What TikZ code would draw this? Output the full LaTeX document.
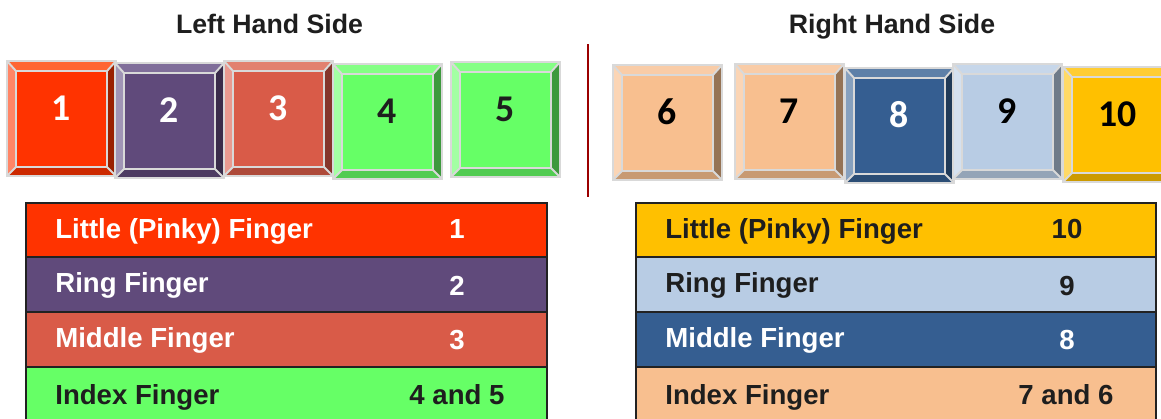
\documentclass[tikz,border=0pt]{standalone}
\usepackage{fontspec}
\setmainfont{Liberation Sans}
\newfontfamily\keyfont{Carlito}
\definecolor{Ink}{RGB}{30,30,30}
\definecolor{RuleInk}{RGB}{34,34,34}
\definecolor{KeyEdge}{RGB}{217,217,217}
\definecolor{Maroon}{RGB}{155,0,0}
% key palettes: face, left, top, right, bottom bevel
\definecolor{Scarlet}{HTML}{FF3300}\definecolor{ScarletLt}{HTML}{FF8566}\definecolor{ScarletTp}{HTML}{FF6633}\definecolor{ScarletRt}{HTML}{992000}\definecolor{ScarletBt}{HTML}{CC2900}
\definecolor{Plum}{HTML}{604A7B}\definecolor{PlumLt}{HTML}{A094B5}\definecolor{PlumTp}{HTML}{806E9A}\definecolor{PlumRt}{HTML}{3A2C4A}\definecolor{PlumBt}{HTML}{4D3B62}
\definecolor{Coral}{HTML}{D95B48}\definecolor{CoralLt}{HTML}{E99A90}\definecolor{CoralTp}{HTML}{E2806F}\definecolor{CoralRt}{HTML}{85352B}\definecolor{CoralBt}{HTML}{AE4A3A}
\definecolor{Lime}{HTML}{66FF66}\definecolor{LimeLt}{HTML}{A3FFA3}\definecolor{LimeTp}{HTML}{85FF85}\definecolor{LimeRt}{HTML}{3D993D}\definecolor{LimeBt}{HTML}{52CC52}
\definecolor{Peach}{HTML}{F8BF8F}\definecolor{PeachLt}{HTML}{FBD5B5}\definecolor{PeachTp}{HTML}{F9CCA7}\definecolor{PeachRt}{HTML}{957355}\definecolor{PeachBt}{HTML}{C89A72}
\definecolor{Navy}{HTML}{355E91}\definecolor{NavyLt}{HTML}{86A0BE}\definecolor{NavyTp}{HTML}{5E80A8}\definecolor{NavyRt}{HTML}{203A58}\definecolor{NavyBt}{HTML}{2B4D75}
\definecolor{Sky}{HTML}{B8CCE4}\definecolor{SkyLt}{HTML}{D5E1EF}\definecolor{SkyTp}{HTML}{C7D7EA}\definecolor{SkyRt}{HTML}{6F7B89}\definecolor{SkyBt}{HTML}{94A4B7}
\definecolor{Gold}{HTML}{FFC000}\definecolor{GoldLt}{HTML}{FFD966}\definecolor{GoldTp}{HTML}{FFCD33}\definecolor{GoldRt}{HTML}{997300}\definecolor{GoldBt}{HTML}{CC9A00}
\tikzset{
  sidetitle/.style={font=\fontsize{15.2pt}{18pt}\selectfont\bfseries,text=Ink,anchor=base,inner sep=0pt},
  keyedge/.style={draw=KeyEdge,line width=1.1pt,line join=miter},
  keydigit/.style={font=\keyfont\fontsize{21.5pt}{24pt}\selectfont\bfseries,anchor=base,inner sep=0pt},
  fingerrow/.style={draw=RuleInk,line width=1.4pt},
  fingername/.style={font=\fontsize{15.7pt}{18pt}\selectfont\bfseries,anchor=base west,inner sep=0pt},
  fingerkey/.style={font=\fontsize{15.7pt}{18pt}\selectfont\bfseries,anchor=base,inner sep=0pt},
  divider/.style={draw=Maroon,line width=1.6pt},
  pics/keycap/.style n args={3}{code={
    \fill[#1Lt] (0,0) -- (9,10) -- (9,106) -- (0,115) -- cycle;
    \fill[#1Tp] (0,0) -- (109,0) -- (100,10) -- (9,10) -- cycle;
    \fill[#1Rt] (109,0) -- (109,115) -- (100,106) -- (100,10) -- cycle;
    \fill[#1Bt] (0,115) -- (9,106) -- (100,106) -- (109,115) -- cycle;
    \fill[#1] (9,10) rectangle (100,106);
    \draw[keyedge] (0,0) rectangle (109,115) (9,10) rectangle (100,106)
      (0,0) -- (9,10) (109,0) -- (100,10) (109,115) -- (100,106) (0,115) -- (9,106);
    \node[keydigit,text=#3] (-num) at (54.5,59) {#2};
  }}
}
\begin{document}
\begin{tikzpicture}[x=0.02cm,y=-0.02cm]
  \useasboundingbox (0,0) rectangle (1161,419);
  \clip (0,0) rectangle (1161,419);
  \node[sidetitle] (lhs) at (269.5,33) {Left Hand Side};
  \node[sidetitle] (rhs) at (892,33) {Right Hand Side};
  % keys
  \pic (k1) at (7,61) {keycap={Scarlet}{1}{white}};
  \pic (k2) at (115,63) {keycap={Plum}{2}{white}};
  \pic (k3) at (224,61) {keycap={Coral}{3}{white}};
  \pic (k4) at (333,64) {keycap={Lime}{4}{Ink}};
  \pic (k5) at (451,62) {keycap={Lime}{5}{Ink}};
  \pic (k6) at (613,65) {keycap={Peach}{6}{black}};
  \pic (k7) at (735,64) {keycap={Peach}{7}{black}};
  \pic (k8) at (845,68) {keycap={Navy}{8}{white}};
  \pic (k9) at (953,64) {keycap={Sky}{9}{black}};
  \pic (k10) at (1063,67) {keycap={Gold}{10}{black}};
  \draw[divider] (588,44) -- (588,197);
  % left hand table
  \draw[fingerrow,fill=Scarlet] (26,203) rectangle (547,257);
  \draw[fingerrow,fill=Plum] (26,257) rectangle (547,312);
  \draw[fingerrow,fill=Coral] (26,312) rectangle (547,367);
  \draw[fingerrow,fill=Lime] (26,367) rectangle (547,422);
  \node[fingername,text=white] (lf1) at (55,238) {Little (Pinky) Finger};
  \node[fingerkey,text=white] (lk1) at (457,238) {1};
  \node[fingername,text=white] (lf2) at (55,292) {Ring Finger};
  \node[fingerkey,text=white] (lk2) at (457,295) {2};
  \node[fingername,text=white] (lf3) at (55,347) {Middle Finger};
  \node[fingerkey,text=white] (lk3) at (457,349) {3};
  \node[fingername,text=Ink] (lf4) at (55,404) {Index Finger};
  \node[fingerkey,text=Ink] (lk4) at (457,404) {4 and 5};
  % right hand table
  \draw[fingerrow,fill=Gold] (636,203) rectangle (1156,257);
  \draw[fingerrow,fill=Sky] (636,257) rectangle (1156,312);
  \draw[fingerrow,fill=Navy] (636,312) rectangle (1156,367);
  \draw[fingerrow,fill=Peach] (636,367) rectangle (1156,422);
  \node[fingername,text=Ink] (rf1) at (665,238) {Little (Pinky) Finger};
  \node[fingerkey,text=Ink] (rk1) at (1067,238) {10};
  \node[fingername,text=Ink] (rf2) at (665,292) {Ring Finger};
  \node[fingerkey,text=Ink] (rk2) at (1067,295) {9};
  \node[fingername,text=white] (rf3) at (665,347) {Middle Finger};
  \node[fingerkey,text=white] (rk3) at (1067,349) {8};
  \node[fingername,text=Ink] (rf4) at (665,404) {Index Finger};
  \node[fingerkey,text=Ink] (rk4) at (1066,404) {7 and 6};
\end{tikzpicture}
\end{document}
